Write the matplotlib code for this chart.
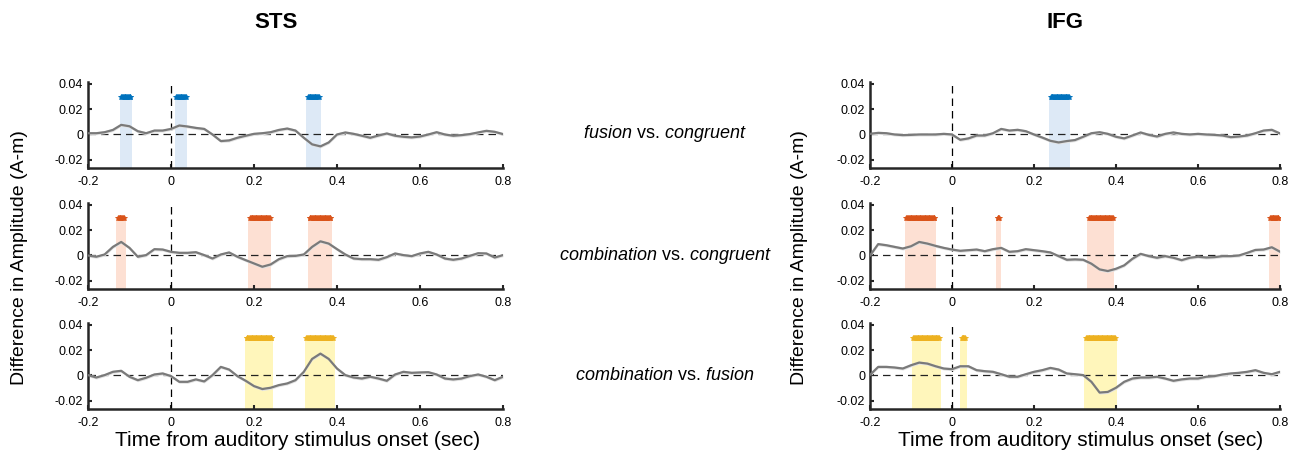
import numpy as np
import matplotlib
matplotlib.use("Agg")
import matplotlib.pyplot as plt

plt.rcParams['font.family'] = ['Liberation Sans', 'DejaVu Sans']
plt.rcParams['mathtext.fontset'] = 'custom'
plt.rcParams['mathtext.rm'] = 'Liberation Sans'
plt.rcParams['mathtext.it'] = 'Liberation Sans:italic'

# time axis of the traces (sec)
time = np.round(np.arange(-0.2, 0.8001, 0.02), 3)

# difference waves (A-m)
sts_fus_con = [0.0010, 0.0010, 0.0018, 0.0036, 0.0076, 0.0065, 0.0026, 0.0010, 0.0031, 0.0031,
               0.0044, 0.0071, 0.0063, 0.0052, 0.0044, 0.0000, -0.0052, -0.0047, -0.0026, -0.0010,
               0.0005, 0.0010, 0.0018, 0.0036, 0.0047, 0.0031, -0.0026, -0.0078, -0.0094, -0.0063,
               0.0000, 0.0016, 0.0005, -0.0010, -0.0026, -0.0008, 0.0008, -0.0010, -0.0018, -0.0023,
               -0.0016, 0.0000, 0.0018, 0.0000, -0.0010, -0.0005, 0.0003, 0.0016, 0.0029, 0.0021,
               0.0003]
sts_com_con = [0.0000, -0.0010, 0.0008, 0.0068, 0.0107, 0.0060, -0.0010, 0.0003, 0.0050, 0.0047,
               0.0029, 0.0021, 0.0021, 0.0026, 0.0003, -0.0024, 0.0008, 0.0024, -0.0010, -0.0037,
               -0.0063, -0.0089, -0.0071, -0.0029, -0.0005, -0.0003, 0.0008, 0.0068, 0.0112, 0.0094,
               0.0050, 0.0008, -0.0024, -0.0029, -0.0029, -0.0034, -0.0013, 0.0016, 0.0003, -0.0005,
               0.0016, 0.0029, 0.0008, -0.0024, -0.0034, -0.0024, -0.0003, 0.0018, 0.0016, -0.0016,
               0.0003]
sts_com_fus = [0.0003, -0.0016, 0.0003, 0.0029, 0.0037, -0.0010, -0.0037, -0.0018, 0.0008, 0.0016,
               -0.0005, -0.0050, -0.0050, -0.0031, -0.0047, 0.0003, 0.0068, 0.0047, -0.0005, -0.0042,
               -0.0084, -0.0107, -0.0097, -0.0076, -0.0063, -0.0037, 0.0029, 0.0131, 0.0173, 0.0131,
               0.0055, 0.0003, -0.0016, -0.0024, -0.0010, -0.0024, -0.0042, 0.0008, 0.0029, 0.0021,
               0.0024, 0.0026, 0.0008, -0.0024, -0.0031, -0.0024, -0.0005, 0.0008, -0.0010, -0.0037,
               -0.0010]
ifg_fus_con = [0.0005, 0.0013, 0.0010, 0.0000, -0.0005, -0.0003, 0.0000, 0.0000, 0.0000, 0.0005,
               0.0000, -0.0042, -0.0031, -0.0008, -0.0008, 0.0010, 0.0044, 0.0031, 0.0037, 0.0026,
               0.0000, -0.0024, -0.0050, -0.0063, -0.0052, -0.0044, -0.0018, 0.0010, 0.0018, 0.0005,
               -0.0018, -0.0031, -0.0008, 0.0016, -0.0003, -0.0016, 0.0005, 0.0016, 0.0005, 0.0000,
               0.0005, 0.0000, -0.0003, -0.0008, -0.0021, -0.0016, -0.0008, 0.0010, 0.0031, 0.0037,
               0.0008]
ifg_com_con = [0.0000, 0.0090, 0.0081, 0.0068, 0.0055, 0.0073, 0.0107, 0.0094, 0.0076, 0.0060,
               0.0047, 0.0037, 0.0042, 0.0047, 0.0034, 0.0050, 0.0060, 0.0029, 0.0034, 0.0050,
               0.0042, 0.0034, 0.0024, -0.0005, -0.0034, -0.0031, -0.0034, -0.0065, -0.0110, -0.0123,
               -0.0105, -0.0078, -0.0026, 0.0013, -0.0005, -0.0018, -0.0005, -0.0018, -0.0037, -0.0018,
               -0.0010, -0.0016, -0.0013, -0.0005, -0.0005, 0.0000, 0.0021, 0.0044, 0.0047, 0.0065,
               0.0030]
ifg_com_fus = [0.0005, 0.0068, 0.0068, 0.0063, 0.0055, 0.0081, 0.0102, 0.0094, 0.0073, 0.0055,
               0.0050, 0.0073, 0.0073, 0.0042, 0.0034, 0.0029, 0.0010, -0.0010, -0.0010, 0.0010,
               0.0029, 0.0042, 0.0060, 0.0047, 0.0016, 0.0010, 0.0003, -0.0050, -0.0135, -0.0130,
               -0.0097, -0.0050, -0.0024, -0.0016, -0.0016, -0.0010, -0.0024, -0.0042, -0.0031, -0.0024,
               -0.0024, -0.0010, -0.0005, 0.0008, 0.0016, 0.0021, 0.0029, 0.0042, 0.0021, 0.0010,
               0.0029]
sem = 0.0012

# significant windows (start, end) in sec
sts_fus_con_sig = [(-0.124, -0.093), (0.009, 0.039), (0.326, 0.361)]
sts_com_con_sig = [(-0.132, -0.109), (0.186, 0.242), (0.330, 0.389)]
sts_com_fus_sig = [(0.178, 0.246), (0.322, 0.394)]
ifg_fus_con_sig = [(0.237, 0.289)]
ifg_com_con_sig = [(-0.115, -0.039), (0.107, 0.120), (0.330, 0.396), (0.772, 0.800)]
ifg_com_fus_sig = [(-0.098, -0.028), (0.020, 0.036), (0.323, 0.402)]

row_labels = [r'$\mathit{fusion}$ vs. $\mathit{congruent}$',
              r'$\mathit{combination}$ vs. $\mathit{congruent}$',
              r'$\mathit{combination}$ vs. $\mathit{fusion}$']
row_colors = ['#0072BD', '#D95319', '#EDB120']
row_shades = ['#dde9f6', '#fde0d3', '#fff6bb']

xticks = [-0.2, 0, 0.2, 0.4, 0.6, 0.8]
xticklabels = ['-0.2', '0', '0.2', '0.4', '0.6', '0.8']
yticks = [-0.02, 0, 0.02, 0.04]
yticklabels = ['-0.02', '0', '0.02', '0.04']
sig_level = 0.03
ylim = (-0.0265, 0.0415)

W, H = 1311, 462
fig = plt.figure(figsize=(W / 100, H / 100), dpi=100)

cols = [
    (88, 415, [sts_fus_con, sts_com_con, sts_com_fus],
     [sts_fus_con_sig, sts_com_con_sig, sts_com_fus_sig]),
    (870, 410, [ifg_fus_con, ifg_com_con, ifg_com_fus],
     [ifg_fus_con_sig, ifg_com_con_sig, ifg_com_fus_sig]),
]
row_bottoms = [168, 289, 409]
row_h = 86

for x0, w, traces, sigs in cols:
    for r in range(3):
        ax = fig.add_axes([x0 / W, 1 - row_bottoms[r] / H, w / W, row_h / H])
        vals = np.array(traces[r])
        for (s, e) in sigs[r]:
            ax.fill_between([s, e], ylim[0], sig_level, color=row_shades[r], lw=0, zorder=1)
            # one asterisk per sample inside the window
            pts = np.arange(s + 0.004, e - 0.004 + 1e-9, 0.002)
            if len(pts) == 0:
                pts = np.array([(s + e) / 2])
            ax.plot(pts, np.full(len(pts), sig_level), ls='none', marker='*',
                    ms=4, mew=0.6, color=row_colors[r], zorder=4)
        ax.axvline(0, color='black', ls=(0, (6, 4)), lw=0.9, zorder=2)
        ax.axhline(0, color='#222222', ls=(0, (6, 4)), lw=0.9, zorder=2)
        ax.fill_between(time, vals - sem, vals + sem, color='#e3e3e3', lw=0, zorder=2.5)
        ax.plot(time, vals, color='#7a7a7a', lw=1.6, zorder=3, solid_joinstyle='round')
        ax.set_xlim(-0.2, 0.8)
        ax.set_ylim(*ylim)
        ax.set_xticks(xticks)
        ax.set_xticklabels(xticklabels)
        ax.set_yticks(yticks)
        ax.set_yticklabels(yticklabels)
        for side in ['top', 'right']:
            ax.spines[side].set_visible(False)
        for side in ['left', 'bottom']:
            ax.spines[side].set_linewidth(1.8)
            ax.spines[side].set_color('#262626')
        ax.tick_params(direction='in', length=3, width=1.5, color='#262626',
                       labelsize=9)
        ax.tick_params(axis='x', pad=6)
        ax.set_facecolor('none')

for r in range(3):
    ymid = 1 - (row_bottoms[r] - 34) / H
    fig.text(665 / W, ymid, row_labels[r], fontsize=13, ha='center', va='center')

fig.text(276 / W, 1 - 22 / H, 'STS', fontsize=16, fontweight='bold', ha='center', va='center')
fig.text(1065 / W, 1 - 22 / H, 'IFG', fontsize=16, fontweight='bold', ha='center', va='center')

for xl in [20, 800]:
    fig.text(xl / W, 1 - 258 / H, 'Difference in Amplitude (A-m)', fontsize=14,
             rotation=90, ha='center', va='center')
for xc in [298, 1081]:
    fig.text(xc / W, 1 - 440 / H, 'Time from auditory stimulus onset (sec)', fontsize=15,
             ha='center', va='center')

fig.savefig('out.png', dpi=100)
